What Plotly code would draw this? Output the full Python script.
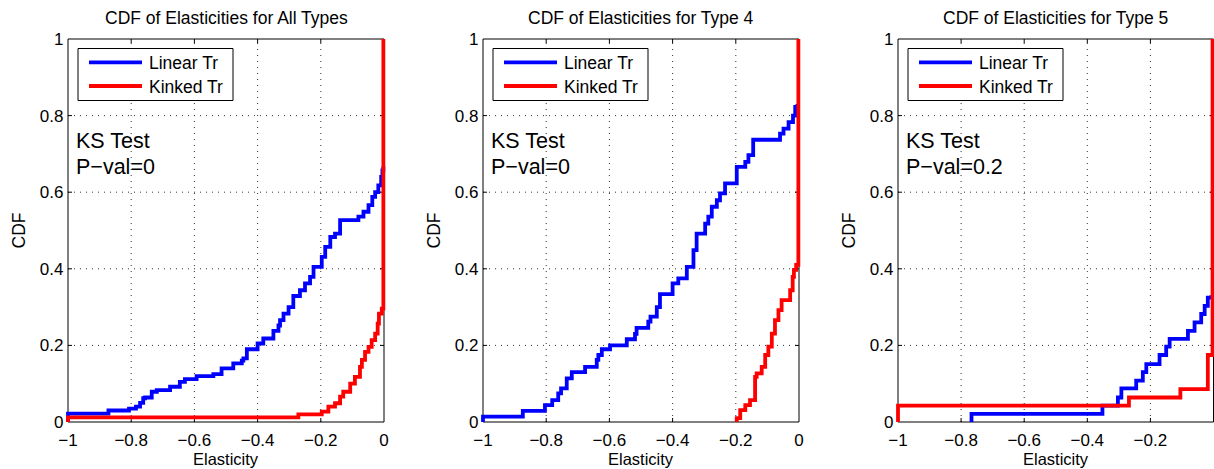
import plotly.graph_objects as go

# ---------------- data: empirical CDF steps (jump location, CDF level after the jump) ----------------
all_lin_x = [-1.0, -1.0, -0.872, -0.807, -0.785, -0.772, -0.762, -0.756, -0.735, -0.719, -0.677, -0.646,
             -0.630, -0.593, -0.540, -0.514, -0.477, -0.450, -0.445, -0.434, -0.400, -0.382, -0.350,
             -0.334, -0.329, -0.318, -0.302, -0.287, -0.266, -0.250, -0.234, -0.223, -0.197, -0.186,
             -0.170, -0.155, -0.139, -0.081, -0.065, -0.049, -0.037, -0.028, -0.018, -0.009, -0.005, -0.002]
all_lin_y = [0.0, 0.022, 0.030, 0.035, 0.040, 0.050, 0.062, 0.064, 0.079, 0.083, 0.092, 0.105,
             0.112, 0.120, 0.125, 0.140, 0.153, 0.160, 0.166, 0.190, 0.205, 0.218, 0.238,
             0.252, 0.266, 0.283, 0.300, 0.329, 0.344, 0.362, 0.379, 0.405, 0.431, 0.457,
             0.483, 0.492, 0.527, 0.536, 0.549, 0.566, 0.588, 0.600, 0.618, 0.640, 0.657, 0.667]

all_kink_x = [-1.0, -1.0, -0.271, -0.197, -0.176, -0.155, -0.139, -0.129, -0.107, -0.092, -0.076,
              -0.070, -0.060, -0.049, -0.039, -0.028, -0.020, -0.016, -0.007, -0.002]
all_kink_y = [0.0, 0.012, 0.020, 0.027, 0.040, 0.049, 0.066, 0.079, 0.100, 0.118, 0.144,
              0.162, 0.183, 0.196, 0.214, 0.231, 0.257, 0.283, 0.296, 1.0]

t4_lin_x = [-1.0, -1.0, -0.874, -0.804, -0.781, -0.762, -0.753, -0.735, -0.719, -0.677, -0.640, -0.635,
            -0.624, -0.598, -0.545, -0.519, -0.514, -0.477, -0.470, -0.450, -0.440, -0.400, -0.382,
            -0.355, -0.334, -0.324, -0.297, -0.287, -0.276, -0.260, -0.250, -0.234, -0.197, -0.170,
            -0.160, -0.145, -0.060, -0.049, -0.033, -0.019, -0.012, -0.005]
t4_lin_y = [0.0, 0.014, 0.029, 0.044, 0.057, 0.075, 0.088, 0.114, 0.130, 0.144, 0.162, 0.175,
            0.190, 0.200, 0.216, 0.230, 0.246, 0.262, 0.275, 0.300, 0.334, 0.362, 0.375,
            0.405, 0.449, 0.492, 0.518, 0.536, 0.562, 0.579, 0.597, 0.623, 0.666, 0.679,
            0.697, 0.737, 0.753, 0.766, 0.783, 0.800, 0.823, 0.830]

t4_kink_x = [-0.197, -0.197, -0.186, -0.170, -0.155, -0.139, -0.134, -0.118, -0.107, -0.097, -0.086,
             -0.076, -0.065, -0.055, -0.028, -0.020, -0.016, -0.009, -0.002]
t4_kink_y = [0.0, 0.010, 0.031, 0.044, 0.057, 0.118, 0.127, 0.144, 0.175, 0.197, 0.231,
             0.266, 0.292, 0.318, 0.344, 0.379, 0.397, 0.410, 1.0]

t5_lin_x = [-0.767, -0.767, -0.352, -0.303, -0.292, -0.245, -0.224, -0.213, -0.171, -0.150, -0.139,
            -0.081, -0.060, -0.039, -0.028, -0.018, -0.007]
t5_lin_y = [0.0, 0.021, 0.043, 0.064, 0.088, 0.108, 0.130, 0.151, 0.175, 0.197, 0.217,
            0.238, 0.260, 0.282, 0.303, 0.325, 0.331]

t5_kink_x = [-1.0, -1.0, -0.268, -0.105, -0.018, -0.003]
t5_kink_y = [0.0, 0.043, 0.064, 0.086, 0.175, 1.0]

panel_titles = ["CDF of Elasticities for All Types",
                "CDF of Elasticities for Type 4",
                "CDF of Elasticities for Type 5"]
ks_pvals = ["0", "0", "0.2"]
series_names = ["Linear Tr", "Kinked Tr"]
series_colors = ["#0000ff", "#ff0000"]
x_ticks = [-1, -0.8, -0.6, -0.4, -0.2, 0]
y_ticks = [0, 0.2, 0.4, 0.6, 0.8, 1]
x_label = "Elasticity"
y_label = "CDF"

panels = [
    ((all_lin_x, all_lin_y), (all_kink_x, all_kink_y)),
    ((t4_lin_x, t4_lin_y), (t4_kink_x, t4_kink_y)),
    ((t5_lin_x, t5_lin_y), (t5_kink_x, t5_kink_y)),
]

# ---------------- page geometry (pixels) ----------------
W, H = 1214, 469
PLOT_LEFT = [68, 483, 898]
PLOT_RIGHT = [384, 799, 1213.5]
PLOT_TOP, PLOT_BOTTOM = 39, 422
PAD = 2.5          # extra room so thick lines on the box edges are not clipped
FONT = "Liberation Sans, Arial, Helvetica, sans-serif"
LINE_W = 3.8


def px(x):
    return x / W


def py(y):
    return 1 - y / H


fig = go.Figure()
shapes = []
annotations = []
layout_axes = {}

for i, (lin, kink) in enumerate(panels):
    n = "" if i == 0 else str(i + 1)
    xa, ya = "x" + n, "y" + n
    L, R = PLOT_LEFT[i], PLOT_RIGHT[i]
    wpx, hpx = R - L, PLOT_BOTTOM - PLOT_TOP
    r_edge = min(R + PAD, W)

    layout_axes["xaxis" + n] = dict(
        domain=[px(L - PAD), px(r_edge)],
        range=[-1 - PAD / wpx, (r_edge - R) / wpx],
        anchor=ya, showgrid=False, zeroline=False, showline=False, ticks="",
        tickmode="array", tickvals=x_ticks, ticklabelstandoff=3, automargin=False,
        tickfont=dict(family=FONT, size=17, color="black"), fixedrange=True,
    )
    layout_axes["yaxis" + n] = dict(
        domain=[py(PLOT_BOTTOM + PAD), py(PLOT_TOP - PAD)],
        range=[-PAD / hpx, 1 + PAD / hpx],
        anchor=xa, showgrid=False, zeroline=False, showline=False, ticks="",
        tickmode="array", tickvals=y_ticks, ticklabelstandoff=1, automargin=False,
        tickfont=dict(family=FONT, size=17, color="black"), fixedrange=True,
    )

    # dotted grid
    for gx in x_ticks[1:-1]:
        shapes.append(dict(type="line", xref=xa, yref=ya, x0=gx, x1=gx, y0=0, y1=1,
                           line=dict(color="#333333", width=1, dash="1px,5px"), layer="below"))
    for gy in y_ticks[1:-1]:
        shapes.append(dict(type="line", xref=xa, yref=ya, x0=-1, x1=0, y0=gy, y1=gy,
                           line=dict(color="#333333", width=1, dash="1px,5px"), layer="below"))
    # axes box
    shapes.append(dict(type="rect", xref=xa, yref=ya, x0=-1, x1=0, y0=0, y1=1,
                       line=dict(color="black", width=1), fillcolor="rgba(0,0,0,0)", layer="below"))
    # inward tick marks on all four sides
    tl_y, tl_x = 4 / hpx, 4 / wpx
    for gx in x_ticks[1:-1]:
        for y0, y1 in ((0, tl_y), (1, 1 - tl_y)):
            shapes.append(dict(type="line", xref=xa, yref=ya, x0=gx, x1=gx, y0=y0, y1=y1,
                               line=dict(color="black", width=1), layer="below"))
    for gy in y_ticks[1:-1]:
        for x0, x1 in ((-1, -1 + tl_x), (0, -tl_x)):
            shapes.append(dict(type="line", xref=xa, yref=ya, x0=x0, x1=x1, y0=gy, y1=gy,
                               line=dict(color="black", width=1), layer="below"))

    # step curves
    for (sx, sy), name, color in zip((lin, kink), series_names, series_colors):
        fig.add_trace(go.Scatter(x=sx, y=sy, mode="lines", name=name,
                                 line=dict(color=color, width=LINE_W, shape="hv"),
                                 xaxis=xa, yaxis=ya, showlegend=False))

    cx = (L + R) / 2
    # panel title
    annotations.append(dict(text=panel_titles[i], x=px(cx), y=py(18), xref="paper", yref="paper",
                            xanchor="center", yanchor="middle", showarrow=False,
                            font=dict(family=FONT, size=17.5, color="black")))
    # axis titles
    annotations.append(dict(text=x_label, x=px(cx), y=py(459), xref="paper", yref="paper",
                            xanchor="center", yanchor="middle", showarrow=False,
                            font=dict(family=FONT, size=16.5, color="black")))
    annotations.append(dict(text=y_label, x=px(L - 50), y=py((PLOT_TOP + PLOT_BOTTOM) / 2),
                            xref="paper", yref="paper", textangle=-90,
                            xanchor="center", yanchor="middle", showarrow=False,
                            font=dict(family=FONT, size=17.5, color="black")))
    # KS test note
    for txt, yy in (("KS Test", 140.5), ("P\u2212val=" + ks_pvals[i], 167)):
        annotations.append(dict(text=txt, x=px(L + 6), y=py(yy), xref="paper", yref="paper",
                                xanchor="left", yanchor="middle", showarrow=False,
                                font=dict(family=FONT, size=21.5, color="black")))

    # legend box
    shapes.append(dict(type="rect", xref="paper", yref="paper",
                       x0=px(L + 10), x1=px(L + 165), y0=py(100.5), y1=py(48.5),
                       line=dict(color="black", width=1), fillcolor="white", layer="above"))
    for name, color, yy in zip(series_names, series_colors, (62.3, 86.0)):
        shapes.append(dict(type="line", xref="paper", yref="paper",
                           x0=px(L + 21), x1=px(L + 74), y0=py(yy), y1=py(yy),
                           line=dict(color=color, width=LINE_W), layer="above"))
        annotations.append(dict(text=name, x=px(L + 79), y=py(yy + 0.5), xref="paper", yref="paper",
                                xanchor="left", yanchor="middle", showarrow=False,
                                font=dict(family=FONT, size=17.5, color="black")))

fig.update_layout(
    width=W, height=H,
    margin=dict(l=0, r=0, t=0, b=0, autoexpand=False),
    paper_bgcolor="white", plot_bgcolor="white",
    shapes=shapes, annotations=annotations,
    showlegend=False,
    **layout_axes,
)

fig.write_html("out.html", config={"displayModeBar": False})
